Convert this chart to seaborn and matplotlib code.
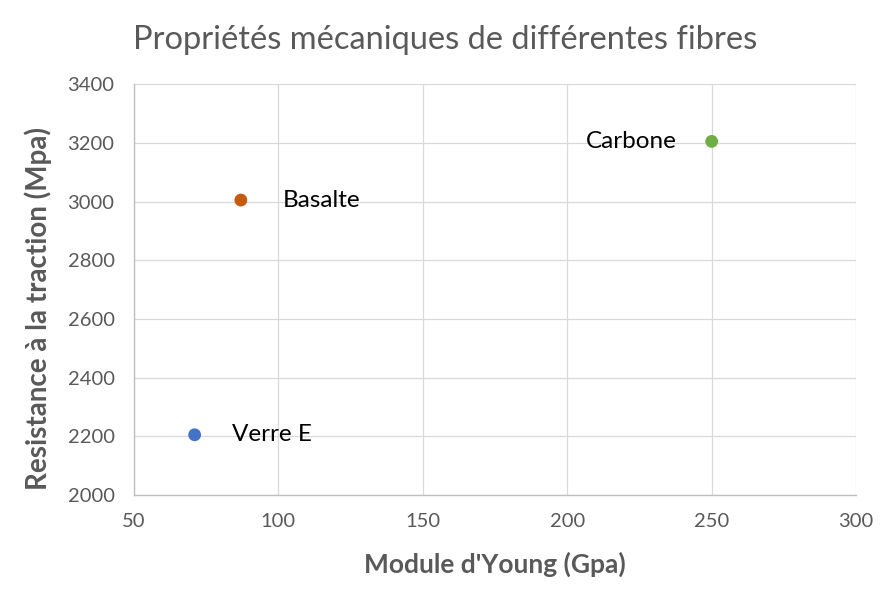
import matplotlib.pyplot as plt
import seaborn as sns
import pandas as pd

fibres = ["Verre E", "Basalte", "Carbone"]
module_young = [71, 87, 250]
resistance = [2205, 3005, 3205]
couleurs = ["#4472C4", "#C55A11", "#70AD47"]
x_ticks = [50, 100, 150, 200, 250, 300]
y_ticks = [2000, 2200, 2400, 2600, 2800, 3000, 3200, 3400]

df = pd.DataFrame({"fibre": fibres, "module": module_young, "resistance": resistance})

sns.set_style("white")
plt.rcParams["font.family"] = ["Lato", "DejaVu Sans"]

fig = plt.figure(figsize=(8.89, 5.97), dpi=100)
ax = fig.add_axes([0.1507, 0.171, 0.8123, 0.688])

sns.scatterplot(data=df, x="module", y="resistance", hue="fibre", palette=couleurs,
                s=85, edgecolor=None, linewidth=0, legend=False, ax=ax, zorder=3)

# étiquettes des points
offsets = {"Verre E": (27, 0, "left"), "Basalte": (30, 0, "left"), "Carbone": (-25, 0, "right")}
for f, xv, yv in zip(fibres, module_young, resistance):
    dx, dy, ha = offsets[f]
    ax.annotate(f, (xv, yv), xytext=(dx, dy), textcoords="offset points",
                ha=ha, va="center", fontsize=17.5, color="black")

ax.set_xlim(50, 300)
ax.set_ylim(2000, 3400)
ax.set_xticks(x_ticks)
ax.set_yticks(y_ticks)
ax.grid(True, color="#D9D9D9", linewidth=0.9)
ax.set_axisbelow(True)
for side in ["top", "right"]:
    ax.spines[side].set_visible(False)
for side in ["left", "bottom"]:
    ax.spines[side].set_color("#BFBFBF")
    ax.spines[side].set_linewidth(1.0)
ax.tick_params(axis="x", length=0, labelsize=14.5, labelcolor="#595959", pad=13)
ax.tick_params(axis="y", length=0, labelsize=14.5, labelcolor="#595959", pad=14)

ax.set_xlabel("Module d'Young (Gpa)", fontsize=19, fontweight="bold", color="#595959")
ax.set_ylabel("Resistance à la traction (Mpa)", fontsize=20, fontweight="bold", color="#595959")
ax.xaxis.set_label_coords(0.5, -0.139)
ax.yaxis.set_label_coords(-0.1136, 0.454)
fig.text(0.501, 0.933, "Propriétés mécaniques de différentes fibres", ha="center", va="center",
         fontsize=23.5, color="#595959")

fig.savefig("out.png", dpi=100)
